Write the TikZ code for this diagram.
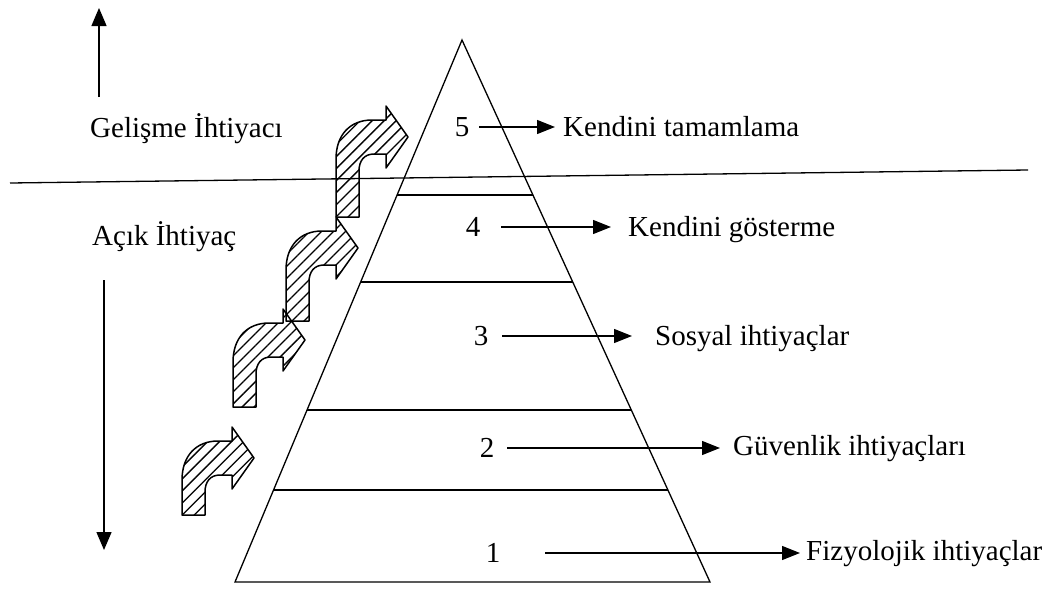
\documentclass[tikz,border=0pt]{standalone}
\usepackage{fontspec}
\setmainfont{Liberation Serif}
\usetikzlibrary{arrows.meta,patterns.meta,calc}
\newcommand\hatcharrow[3]{%
  \begin{scope}[shift={(#1,#2)},yscale=-1]
    \draw[hatched] (0,0) -- (23,0) -- ({23},{#3-34})
      .. controls ({23},{#3-24}) and ({28},{#3-17}) .. ({38},{#3-17})
      -- ({50},{#3-17}) -- ({50},{#3-31}) -- ({72},{#3}) -- ({50},{#3+31})
      -- ({50},{#3+17}) -- ({36},{#3+17})
      .. controls ({14},{#3+17}) and ({0},{#3+2}) .. ({0},{#3-22}) -- cycle;
  \end{scope}}
\begin{document}
\begin{tikzpicture}[x=1pt,y=-1pt,
  lbl/.style={font=\fontsize{29}{34}\selectfont, inner sep=0pt, text height=19pt, text depth=0pt},
  txt/.style={lbl, anchor=west},
  arr/.style={line width=1.2pt, -{Triangle[length=18pt,width=14pt]}},
  varr/.style={line width=1.3pt, -{Triangle[length=18pt,width=15pt]}},
  edge/.style={line width=1.3pt},
  hatched/.style={line width=1.5pt, line join=round,
    pattern={Lines[angle=45,distance=8.5pt,line width=1.3pt]}}]
\useasboundingbox (0,0) rectangle (1056,589);
\fill[white] (0,0) rectangle (1056,589);

% pyramid
\coordinate (apex) at (462,40);
\coordinate (bl) at (235,582);
\coordinate (br) at (710,582);
\draw[edge, line join=miter] (apex) -- (bl) -- (br) -- cycle;
\foreach \t in {0.286,0.4465,0.6827,0.830}{
  \draw[edge] ($(apex)!\t!(bl)$) -- ($(apex)!\t!(br)$);
}

% long separating line
\coordinate (sepL) at (10,183);
\coordinate (sepR) at (1028,170);
\draw[edge] (sepL) -- (sepR);

% left labels and vertical arrows
\node[txt] (gel) at (90,128) {Gelişme İhtiyacı};
\node[txt] (acik) at (92,236) {Açık İhtiyaç};
\coordinate (up0) at (99,97);
\coordinate (up1) at (99,8);
\draw[varr] (up0) -- (up1);
\coordinate (dn0) at (104,280);
\coordinate (dn1) at (104,550);
\draw[varr] (dn0) -- (dn1);

% levels
\node[lbl] (n5) at (462,127) {5};
\node[txt] (t5) at (563,127) {Kendini tamamlama};
\draw[arr, shorten <=10pt, shorten >=8pt] (n5.east) -- (t5.west);

\node[lbl] (n4) at (473,227) {4};
\node[txt] (t4) at (628,227) {Kendini gösterme};
\draw[arr, shorten <=21pt, shorten >=17pt] (n4.east) -- (t4.west);

\node[lbl] (n3) at (481,336) {3};
\node[txt] (t3) at (655,336) {Sosyal ihtiyaçlar};
\draw[arr, shorten <=14pt, shorten >=23pt] (n3.east) -- (t3.west);

\node[lbl] (n2) at (487,448) {2};
\node[txt] (t2) at (733,446) {Güvenlik ihtiyaçları};
\draw[arr, shorten <=13pt, shorten >=13pt] (n2.east) -- (t2.west |- n2.east);

\node[lbl] (n1) at (493,553) {1};
\node[txt] (t1) at (806,551) {Fizyolojik ihtiyaçlar};
\draw[arr, shorten <=45pt, shorten >=6pt] (n1.east) -- (t1.west |- n1.east);

% hatched bent arrows
\hatcharrow{336}{217}{80}
\hatcharrow{286}{321}{73}
\hatcharrow{233}{407}{67}
\hatcharrow{182}{515}{57}
\end{tikzpicture}
\end{document}
